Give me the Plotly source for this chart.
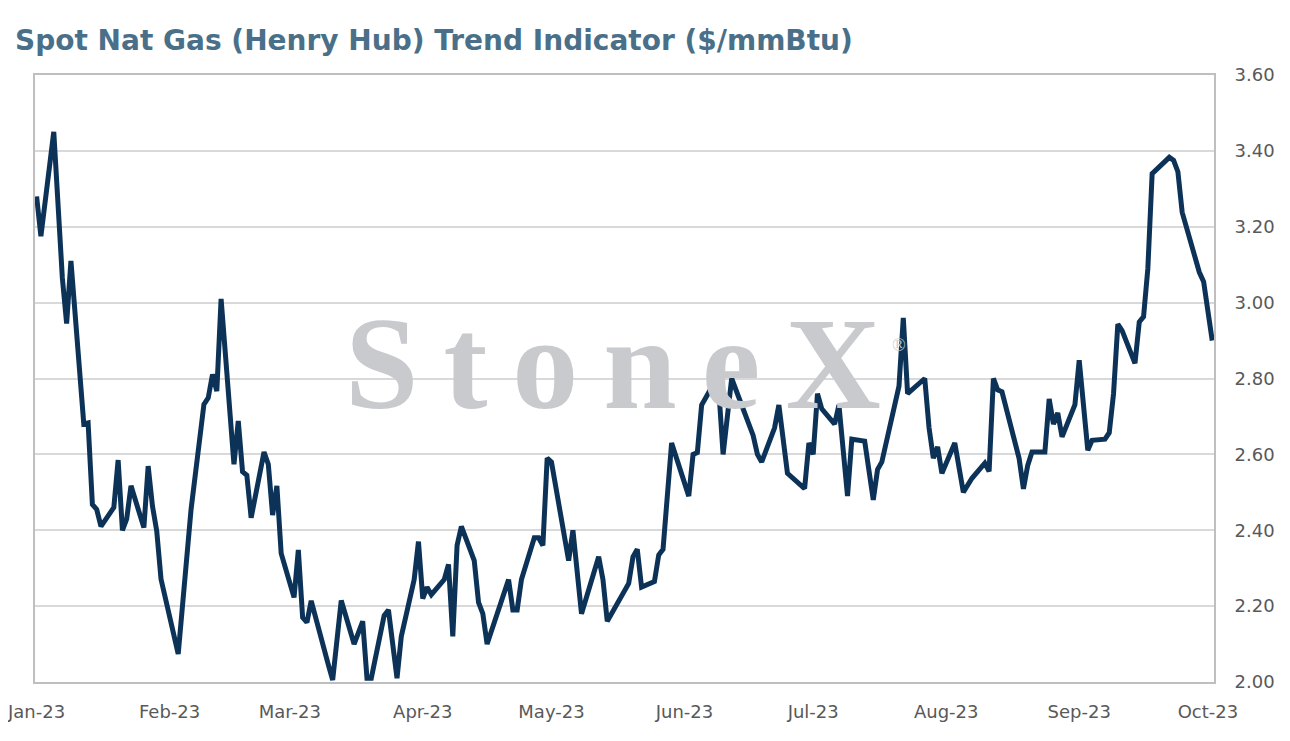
#!/usr/bin/env python3
# -*- coding: utf-8 -*-

import plotly.graph_objects as go


# spot henry hub trend indicator ($/mmBtu)
dates = [
	"2023-01-05", "2023-01-06", "2023-01-09", "2023-01-11", "2023-01-12", "2023-01-13",
	"2023-01-16", "2023-01-17", "2023-01-18", "2023-01-19", "2023-01-20", "2023-01-23",
	"2023-01-24", "2023-01-25", "2023-01-26", "2023-01-27", "2023-01-30", "2023-01-31",
	"2023-02-01", "2023-02-02", "2023-02-03", "2023-02-07", "2023-02-10", "2023-02-13",
	"2023-02-14", "2023-02-15", "2023-02-16", "2023-02-17", "2023-02-20", "2023-02-21",
	"2023-02-22", "2023-02-23", "2023-02-24", "2023-02-27", "2023-02-28", "2023-03-01",
	"2023-03-02", "2023-03-03", "2023-03-06", "2023-03-07", "2023-03-08", "2023-03-09",
	"2023-03-10", "2023-03-13", "2023-03-14", "2023-03-15", "2023-03-17", "2023-03-20",
	"2023-03-22", "2023-03-23", "2023-03-24", "2023-03-27", "2023-03-28", "2023-03-30",
	"2023-03-31", "2023-04-03", "2023-04-04", "2023-04-05", "2023-04-06", "2023-04-07",
	"2023-04-10", "2023-04-11", "2023-04-12", "2023-04-13", "2023-04-14", "2023-04-17",
	"2023-04-18", "2023-04-19", "2023-04-20", "2023-04-25", "2023-04-26", "2023-04-27",
	"2023-04-28", "2023-05-01", "2023-05-02", "2023-05-03", "2023-05-04", "2023-05-05",
	"2023-05-09", "2023-05-10", "2023-05-11", "2023-05-12", "2023-05-16", "2023-05-17",
	"2023-05-18", "2023-05-22", "2023-05-23", "2023-05-24", "2023-05-25", "2023-05-26",
	"2023-05-29", "2023-05-30", "2023-05-31", "2023-06-02", "2023-06-06", "2023-06-07",
	"2023-06-08", "2023-06-09", "2023-06-12", "2023-06-13", "2023-06-14", "2023-06-16",
	"2023-06-19", "2023-06-20", "2023-06-21", "2023-06-22", "2023-06-23", "2023-06-26",
	"2023-06-27", "2023-06-29", "2023-06-30", "2023-07-03", "2023-07-04", "2023-07-05",
	"2023-07-06", "2023-07-07", "2023-07-10", "2023-07-11", "2023-07-13", "2023-07-14",
	"2023-07-17", "2023-07-19", "2023-07-20", "2023-07-21", "2023-07-25", "2023-07-26",
	"2023-07-27", "2023-07-31", "2023-08-01", "2023-08-02", "2023-08-03", "2023-08-04",
	"2023-08-07", "2023-08-09", "2023-08-11", "2023-08-14", "2023-08-15", "2023-08-16",
	"2023-08-17", "2023-08-18", "2023-08-22", "2023-08-23", "2023-08-24", "2023-08-25",
	"2023-08-28", "2023-08-29", "2023-08-30", "2023-08-31", "2023-09-01", "2023-09-04",
	"2023-09-05", "2023-09-07", "2023-09-08", "2023-09-11", "2023-09-12", "2023-09-13",
	"2023-09-14", "2023-09-15", "2023-09-18", "2023-09-19", "2023-09-20", "2023-09-21",
	"2023-09-22", "2023-09-25", "2023-09-26", "2023-09-27", "2023-09-28", "2023-09-29",
	"2023-10-02", "2023-10-03", "2023-10-04", "2023-10-05", "2023-10-06",
]

prices = [
	3.28, 3.175, 3.45, 3.065, 2.945, 3.11,
	2.68, 2.683, 2.468, 2.455, 2.41, 2.46,
	2.585, 2.40, 2.43, 2.517, 2.407, 2.569,
	2.464, 2.398, 2.271, 2.074, 2.455, 2.732,
	2.749, 2.811, 2.767, 3.01, 2.574, 2.688,
	2.554, 2.545, 2.433, 2.606, 2.574, 2.44,
	2.517, 2.339, 2.223, 2.348, 2.17, 2.157,
	2.214, 2.096, 2.045, 2.005, 2.215, 2.10,
	2.16, 2.01, 2.01, 2.175, 2.19, 2.01,
	2.12, 2.27, 2.37, 2.22, 2.25, 2.23,
	2.27, 2.31, 2.12, 2.36, 2.41, 2.32,
	2.21, 2.18, 2.10, 2.27, 2.19, 2.19,
	2.27, 2.38, 2.38, 2.36, 2.59, 2.58,
	2.32, 2.40, 2.29, 2.18, 2.33, 2.27,
	2.16, 2.24, 2.26, 2.33, 2.35, 2.25,
	2.265, 2.335, 2.35, 2.63, 2.49, 2.60,
	2.605, 2.73, 2.79, 2.77, 2.60, 2.80,
	2.71, 2.68, 2.65, 2.60, 2.58, 2.67,
	2.73, 2.55, 2.54, 2.51, 2.63, 2.60,
	2.76, 2.72, 2.68, 2.73, 2.49, 2.64,
	2.635, 2.48, 2.56, 2.58, 2.78, 2.96,
	2.76, 2.80, 2.67, 2.59, 2.62, 2.55,
	2.63, 2.50, 2.537, 2.577, 2.555, 2.80,
	2.77, 2.765, 2.589, 2.509, 2.571, 2.606,
	2.606, 2.746, 2.68, 2.709, 2.646, 2.731,
	2.848, 2.611, 2.637, 2.64, 2.657, 2.76,
	2.943, 2.926, 2.84, 2.949, 2.963, 3.09,
	3.34, 3.37, 3.383, 3.375, 3.345, 3.238,
	3.12, 3.08, 3.055, 2.97, 2.90,
]

# month ticks sit on the 5th, like the excel date axis that starts on the first point
tick_dates = ["2023-01-05", "2023-02-05", "2023-03-05", "2023-04-05", "2023-05-05",
	"2023-06-05", "2023-07-05", "2023-08-05", "2023-09-05", "2023-10-05"]
tick_labels = ["Jan-23", "Feb-23", "Mar-23", "Apr-23", "May-23",
	"Jun-23", "Jul-23", "Aug-23", "Sep-23", "Oct-23"]

title_text = "Spot Nat Gas (Henry Hub) Trend Indicator ($/mmBtu)"


fig = go.Figure()
fig.add_trace(go.Scatter(x=dates, y=prices, mode="lines",
	line=dict(color="#0c3357", width=5), hoverinfo="x+y"))

# watermark (the logo face is wider than any installed serif, so space it out)
fig.add_annotation(text="<span style='letter-spacing:25px'>Stone</span>X",
	xref="paper", yref="paper", x=0.49, y=0.524, xanchor="center", yanchor="middle",
	showarrow=False,
	font=dict(family="Liberation Serif", size=132, color="#c8cacd", weight="bold"))
fig.add_annotation(text="®", xref="paper", yref="paper", x=0.733, y=0.556,
	xanchor="center", yanchor="middle", showarrow=False,
	font=dict(family="Liberation Serif", size=18, color="#c8cacd"))

# the page body has an 8px margin, so the figure margins are pulled in by 8px
fig.update_layout(
	width=1290, height=741,
	margin=dict(l=27, r=84, t=67, b=67, autoexpand=False),
	plot_bgcolor="white", paper_bgcolor="white",
	showlegend=False,
	font=dict(family="DejaVu Sans", size=18, color="#595959"),
	title=dict(text="<b>" + title_text + "</b>", xref="container", yref="container",
		x=7 / 1290, xanchor="left", y=1 - 32 / 741, yanchor="middle",
		font=dict(family="DejaVu Sans", size=28, color="#4a6f88")),
)
fig.update_xaxes(type="date", range=["2023-01-04 15:00", "2023-10-06 10:00"],
	tickvals=tick_dates, ticktext=tick_labels, showgrid=False,
	showline=True, mirror=True, linecolor="#bfbfbf", linewidth=2,
	ticks="outside", ticklen=12, tickcolor="rgba(0,0,0,0)",
	ticklabeloverflow="allow", automargin=False, zeroline=False)
fig.update_yaxes(side="right", range=[2.0, 3.6], dtick=0.2, tickformat=".2f",
	showgrid=True, gridcolor="#d9d9d9", gridwidth=1.5,
	showline=True, mirror=True, linecolor="#bfbfbf", linewidth=2,
	ticks="outside", ticklen=15, tickcolor="rgba(0,0,0,0)",
	ticklabeloverflow="allow", automargin=False, zeroline=False)

fig.write_html("out.html")
